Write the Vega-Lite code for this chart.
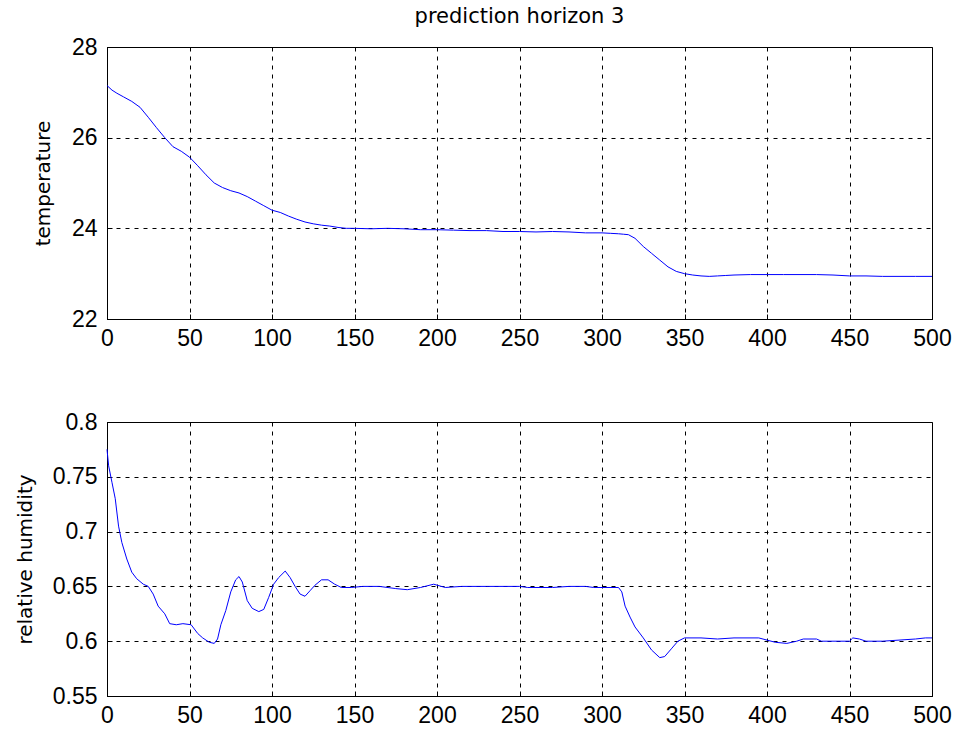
{
  "$schema": "https://vega.github.io/schema/vega-lite/v6.json",
  "background": "white",
  "padding": {"left": 14, "top": 5, "right": 5, "bottom": 5},
  "spacing": 59,
  "datasets": {
    "temp": [
      {"t": 0, "v": 27.15}, {"t": 3, "v": 27.05}, {"t": 6, "v": 26.98}, {"t": 10, "v": 26.9}, {"t": 15, "v": 26.8},
      {"t": 20, "v": 26.67}, {"t": 25, "v": 26.45}, {"t": 30, "v": 26.22}, {"t": 35, "v": 26.0}, {"t": 40, "v": 25.8},
      {"t": 45, "v": 25.7}, {"t": 50, "v": 25.57}, {"t": 55, "v": 25.38}, {"t": 60, "v": 25.18}, {"t": 65, "v": 25.0},
      {"t": 70, "v": 24.9}, {"t": 75, "v": 24.83}, {"t": 80, "v": 24.78}, {"t": 85, "v": 24.7}, {"t": 90, "v": 24.6},
      {"t": 95, "v": 24.5}, {"t": 100, "v": 24.4}, {"t": 105, "v": 24.35}, {"t": 110, "v": 24.27}, {"t": 115, "v": 24.2},
      {"t": 120, "v": 24.14}, {"t": 125, "v": 24.1}, {"t": 130, "v": 24.07}, {"t": 135, "v": 24.05}, {"t": 140, "v": 24.02},
      {"t": 145, "v": 24.0}, {"t": 150, "v": 24.0}, {"t": 160, "v": 23.99}, {"t": 170, "v": 24.0}, {"t": 180, "v": 23.99},
      {"t": 190, "v": 23.97}, {"t": 200, "v": 23.97}, {"t": 210, "v": 23.96}, {"t": 220, "v": 23.95}, {"t": 230, "v": 23.95},
      {"t": 240, "v": 23.93}, {"t": 250, "v": 23.93}, {"t": 260, "v": 23.92}, {"t": 270, "v": 23.93}, {"t": 280, "v": 23.92},
      {"t": 290, "v": 23.9}, {"t": 300, "v": 23.9}, {"t": 305, "v": 23.89}, {"t": 310, "v": 23.88}, {"t": 313, "v": 23.87},
      {"t": 316, "v": 23.86}, {"t": 320, "v": 23.78}, {"t": 325, "v": 23.6}, {"t": 330, "v": 23.45}, {"t": 335, "v": 23.3},
      {"t": 340, "v": 23.15}, {"t": 345, "v": 23.05}, {"t": 350, "v": 23.0}, {"t": 355, "v": 22.97}, {"t": 360, "v": 22.95},
      {"t": 365, "v": 22.94}, {"t": 370, "v": 22.95}, {"t": 375, "v": 22.96}, {"t": 380, "v": 22.97}, {"t": 390, "v": 22.98},
      {"t": 400, "v": 22.98}, {"t": 410, "v": 22.98}, {"t": 420, "v": 22.98}, {"t": 430, "v": 22.98}, {"t": 440, "v": 22.97},
      {"t": 450, "v": 22.95}, {"t": 460, "v": 22.95}, {"t": 470, "v": 22.94}, {"t": 480, "v": 22.94}, {"t": 490, "v": 22.94},
      {"t": 500, "v": 22.94}
    ],
    "hum": [
      {"t": 0, "v": 0.775}, {"t": 1, "v": 0.76}, {"t": 3, "v": 0.745}, {"t": 5, "v": 0.73}, {"t": 7, "v": 0.705},
      {"t": 9, "v": 0.69}, {"t": 12, "v": 0.675}, {"t": 15, "v": 0.663}, {"t": 18, "v": 0.657}, {"t": 22, "v": 0.652},
      {"t": 25, "v": 0.65}, {"t": 28, "v": 0.643}, {"t": 31, "v": 0.632}, {"t": 35, "v": 0.625}, {"t": 38, "v": 0.616},
      {"t": 42, "v": 0.615}, {"t": 46, "v": 0.616}, {"t": 51, "v": 0.615}, {"t": 55, "v": 0.607}, {"t": 58, "v": 0.603},
      {"t": 62, "v": 0.599}, {"t": 65, "v": 0.598}, {"t": 67, "v": 0.602}, {"t": 69, "v": 0.615}, {"t": 72, "v": 0.628},
      {"t": 75, "v": 0.645}, {"t": 78, "v": 0.656}, {"t": 80, "v": 0.659}, {"t": 82, "v": 0.654}, {"t": 85, "v": 0.637},
      {"t": 88, "v": 0.63}, {"t": 92, "v": 0.627}, {"t": 95, "v": 0.629}, {"t": 98, "v": 0.64}, {"t": 101, "v": 0.652},
      {"t": 104, "v": 0.658}, {"t": 108, "v": 0.664}, {"t": 111, "v": 0.658}, {"t": 114, "v": 0.65}, {"t": 117, "v": 0.643},
      {"t": 120, "v": 0.641}, {"t": 123, "v": 0.646}, {"t": 126, "v": 0.651}, {"t": 130, "v": 0.656}, {"t": 134, "v": 0.656},
      {"t": 138, "v": 0.652}, {"t": 142, "v": 0.649}, {"t": 148, "v": 0.649}, {"t": 155, "v": 0.65}, {"t": 165, "v": 0.65},
      {"t": 175, "v": 0.648}, {"t": 182, "v": 0.647}, {"t": 190, "v": 0.649}, {"t": 198, "v": 0.652}, {"t": 205, "v": 0.649},
      {"t": 215, "v": 0.65}, {"t": 230, "v": 0.65}, {"t": 250, "v": 0.65}, {"t": 255, "v": 0.649}, {"t": 270, "v": 0.649},
      {"t": 280, "v": 0.65}, {"t": 290, "v": 0.65}, {"t": 295, "v": 0.649}, {"t": 310, "v": 0.649}, {"t": 312, "v": 0.645},
      {"t": 314, "v": 0.632}, {"t": 317, "v": 0.622}, {"t": 320, "v": 0.613}, {"t": 325, "v": 0.603}, {"t": 330, "v": 0.592},
      {"t": 335, "v": 0.585}, {"t": 338, "v": 0.586}, {"t": 342, "v": 0.593}, {"t": 346, "v": 0.6}, {"t": 350, "v": 0.603},
      {"t": 360, "v": 0.603}, {"t": 370, "v": 0.602}, {"t": 380, "v": 0.603}, {"t": 395, "v": 0.603}, {"t": 400, "v": 0.601},
      {"t": 405, "v": 0.599}, {"t": 412, "v": 0.598}, {"t": 418, "v": 0.6}, {"t": 422, "v": 0.602}, {"t": 430, "v": 0.602},
      {"t": 433, "v": 0.6}, {"t": 450, "v": 0.6}, {"t": 452, "v": 0.603}, {"t": 456, "v": 0.602}, {"t": 460, "v": 0.6},
      {"t": 470, "v": 0.6}, {"t": 480, "v": 0.601}, {"t": 490, "v": 0.602}, {"t": 496, "v": 0.603}, {"t": 500, "v": 0.603}
    ]
  },
  "config": {
    "font": "Liberation Sans",
    "view": {"stroke": "black", "strokeWidth": 1},
    "axis": {
      "domainColor": "black", "domainWidth": 1,
      "tickColor": "black", "tickSize": -5, "tickWidth": 1,
      "labelColor": "black", "labelFont": "Liberation Sans", "labelFontSize": 23, "labelFlush": false,
      "titleColor": "black", "titleFont": "DejaVu Sans", "titleFontSize": 20, "titleFontWeight": "normal",
      "gridColor": "black", "gridDash": [4, 5], "gridOpacity": 1, "gridWidth": 1
    },
    "axisX": {"labelPadding": 13},
    "axisY": {"labelPadding": 15},
    "title": {"font": "DejaVu Sans", "fontSize": 21, "fontWeight": "normal", "color": "black"}
  },
  "vconcat": [
    {
      "width": 825, "height": 272,
      "title": {"text": "prediction horizon 3", "anchor": "middle", "frame": "group", "offset": 9},
      "data": {"name": "temp"},
      "mark": {"type": "line", "color": "#0000ff", "strokeWidth": 1},
      "encoding": {
        "x": {"field": "t", "type": "quantitative", "scale": {"domain": [0, 500], "nice": false, "zero": false},
              "axis": {"title": null, "values": [0, 50, 100, 150, 200, 250, 300, 350, 400, 450, 500], "grid": true}},
        "y": {"field": "v", "type": "quantitative", "scale": {"domain": [22, 28], "nice": false, "zero": false},
              "axis": {"title": "temperature", "values": [22, 24, 26, 28], "grid": true, "titlePadding": 18}}
      }
    },
    {
      "width": 825, "height": 274,
      "data": {"name": "hum"},
      "mark": {"type": "line", "color": "#0000ff", "strokeWidth": 1},
      "encoding": {
        "x": {"field": "t", "type": "quantitative", "scale": {"domain": [0, 500], "nice": false, "zero": false},
              "axis": {"title": null, "values": [0, 50, 100, 150, 200, 250, 300, 350, 400, 450, 500], "grid": true}},
        "y": {"field": "v", "type": "quantitative", "scale": {"domain": [0.55, 0.8], "nice": false, "zero": false},
              "axis": {"title": "relative humidity", "format": "~g", "values": [0.55, 0.6, 0.65, 0.7, 0.75, 0.8], "grid": true, "titlePadding": 17}}
      }
    }
  ]
}
